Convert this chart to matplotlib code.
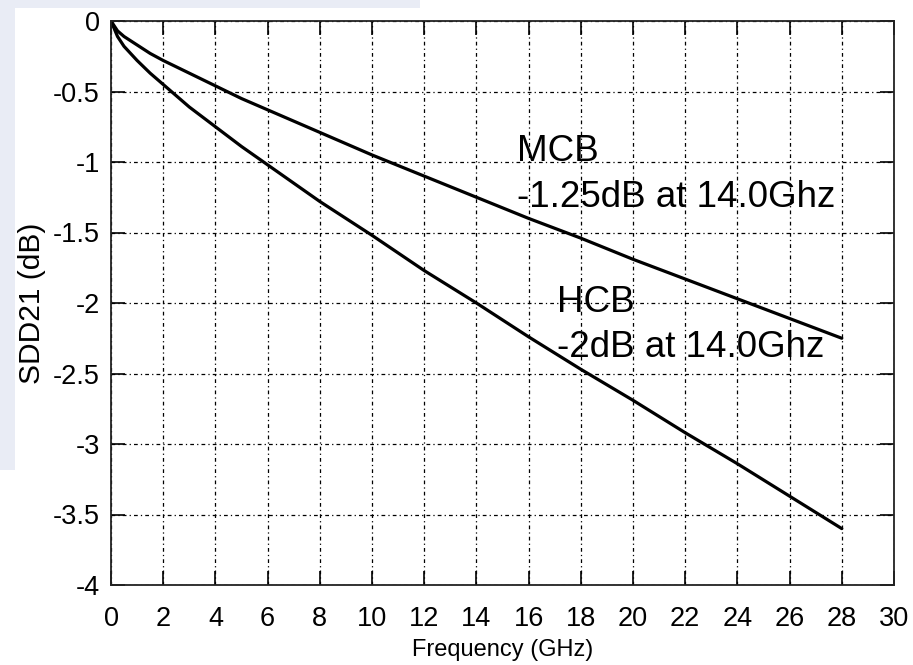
import matplotlib
matplotlib.use("Agg")
from matplotlib import pyplot as plt
from matplotlib.patches import Rectangle

# values
freq = [0, 0.25, 0.5, 1, 1.5, 2, 3, 4, 5, 6, 7, 8, 9, 10, 12, 14, 16, 18, 20, 22, 24, 26, 28]
mcb = [0, -0.07, -0.11, -0.17, -0.23, -0.28, -0.37, -0.46, -0.55, -0.63, -0.71, -0.79,
       -0.87, -0.95, -1.10, -1.25, -1.40, -1.54, -1.69, -1.83, -1.97, -2.11, -2.25]
hcb = [0, -0.11, -0.18, -0.28, -0.37, -0.45, -0.61, -0.75, -0.89, -1.02, -1.15, -1.28,
       -1.40, -1.52, -1.77, -2.00, -2.24, -2.47, -2.69, -2.92, -3.14, -3.37, -3.60]

xticks = list(range(0, 31, 2))
yticks = [0, -0.5, -1, -1.5, -2, -2.5, -3, -3.5, -4]
ytick_labels = ['0', '-0.5', '-1', '-1.5', '-2', '-2.5', '-3', '-3.5', '-4']

mcb_note = ['MCB', '-1.25dB at 14.0Ghz']
hcb_note = ['HCB', '-2dB at 14.0Ghz']

plt.rcParams['font.family'] = ['Liberation Sans', 'DejaVu Sans']

fig = plt.figure(figsize=(9.13, 6.65), dpi=100)
fig.patch.set_facecolor('white')
# slide background showing on the left / top edge
bg = '#e9ecf5'
fig.patches.append(Rectangle((0, 1 - 470 / 665), 15 / 913, 470 / 665, transform=fig.transFigure,
                             facecolor=bg, edgecolor='none', zorder=0))
fig.patches.append(Rectangle((0, 1 - 8 / 665), 420 / 913, 8 / 665, transform=fig.transFigure,
                             facecolor=bg, edgecolor='none', zorder=0))

ax = fig.add_axes([111 / 913, 1 - 585 / 665, 783 / 913, 564 / 665])

ax.plot(freq, mcb, color='black', linewidth=2.3, solid_capstyle='round')
ax.plot(freq, hcb, color='black', linewidth=2.3, solid_capstyle='round')

ax.set_xlim(0, 30)
ax.set_ylim(-4, 0)
ax.set_xticks(xticks)
ax.set_yticks(yticks)
ax.set_yticklabels(ytick_labels)

ax.grid(True, color='black', linestyle=(0, (3, 2.5, 1, 2.5)), linewidth=0.9)
ax.tick_params(direction='in', length=10, width=1.2, top=True, right=True,
               labelsize=19.5, colors='black')
ax.tick_params(axis='x', pad=15)
ax.tick_params(axis='y', pad=8)
for s in ax.spines.values():
    s.set_linewidth(1.3)
    s.set_color('#222222')

ax.set_xlabel('Frequency (GHz)', fontsize=17, labelpad=5)
ax.set_ylabel('SDD21 (dB)', fontsize=21.5)
ax.yaxis.set_label_coords(-0.083, 0.5)

# annotations, one text per line
ax.text(15.57, -0.993, mcb_note[0], fontsize=26.5, va='baseline', ha='left')
ax.text(15.57, -1.319, mcb_note[1], fontsize=26.5, va='baseline', ha='left')
ax.text(17.1, -2.064, hcb_note[0], fontsize=26.5, va='baseline', ha='left')
ax.text(17.1, -2.383, hcb_note[1], fontsize=26.5, va='baseline', ha='left')

fig.savefig('out.png', dpi=100)
